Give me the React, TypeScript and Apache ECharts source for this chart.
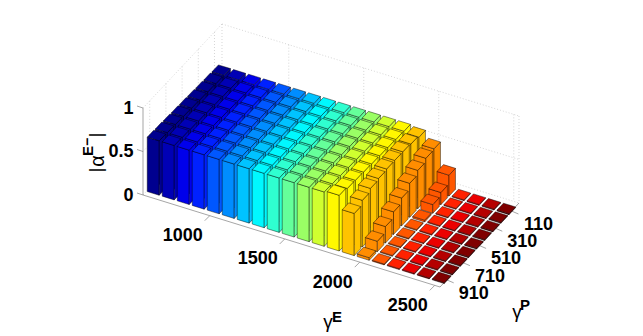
import React, { useEffect, useRef } from "react";
import * as echarts from "echarts";

const gammaE = [600, 700, 800, 900, 1000, 1100, 1200, 1300, 1400, 1500, 1600, 1700, 1800, 1900, 2000, 2100, 2200, 2300, 2400, 2500];
const gammaP = [110, 210, 310, 410, 510, 610, 710, 810, 910];
const columnColors = [
  "#00008f", "#0000b5", "#0000eb", "#0021ff", "#0057ff", "#008dff", "#00c3ff", "#00f8ff", "#2fffd0", "#65ff9a",
  "#9aff65", "#d0ff2f", "#fff800", "#ffc300", "#ff8d00", "#ff5700", "#ff2100", "#eb0000", "#b50000", "#800000",
];
// one list per gamma^P row (110 first), one value per gamma^E column
const alpha110 = [0.585, 0.585, 0.585, 0.585, 0.585, 0.585, 0.585, 0.585, 0.585, 0.585, 0.585, 0.585, 0.585, 0.57, 0.49, 0.24, 0.01, 0.01, 0.01, 0.01];
const alpha210 = [0.59, 0.59, 0.59, 0.59, 0.59, 0.59, 0.59, 0.59, 0.59, 0.59, 0.59, 0.59, 0.59, 0.59, 0.48, 0.14, 0.01, 0.01, 0.01, 0.01];
const alpha310 = [0.595, 0.595, 0.595, 0.595, 0.595, 0.595, 0.595, 0.595, 0.595, 0.595, 0.595, 0.595, 0.595, 0.60, 0.44, 0.10, 0.01, 0.01, 0.01, 0.01];
const alpha410 = [0.60, 0.60, 0.60, 0.60, 0.60, 0.60, 0.60, 0.60, 0.60, 0.60, 0.60, 0.60, 0.60, 0.60, 0.39, 0.02, 0.01, 0.01, 0.01, 0.01];
const alpha510 = [0.605, 0.605, 0.605, 0.605, 0.605, 0.605, 0.605, 0.605, 0.605, 0.605, 0.605, 0.605, 0.605, 0.60, 0.32, 0.01, 0.01, 0.01, 0.01, 0.01];
const alpha610 = [0.61, 0.61, 0.61, 0.61, 0.61, 0.61, 0.61, 0.61, 0.61, 0.61, 0.61, 0.61, 0.61, 0.59, 0.26, 0.01, 0.01, 0.01, 0.01, 0.01];
const alpha710 = [0.615, 0.615, 0.615, 0.615, 0.615, 0.615, 0.615, 0.615, 0.615, 0.615, 0.615, 0.615, 0.615, 0.575, 0.19, 0.01, 0.01, 0.01, 0.01, 0.01];
const alpha810 = [0.62, 0.62, 0.62, 0.62, 0.62, 0.62, 0.62, 0.62, 0.62, 0.62, 0.62, 0.62, 0.62, 0.537, 0.12, 0.01, 0.01, 0.01, 0.01, 0.01];
const alpha910 = [0.625, 0.625, 0.625, 0.625, 0.625, 0.625, 0.625, 0.625, 0.625, 0.625, 0.625, 0.625, 0.64, 0.485, 0.03, 0.01, 0.01, 0.01, 0.01, 0.01];
const alphaRows = [alpha110, alpha210, alpha310, alpha410, alpha510, alpha610, alpha710, alpha810, alpha910];

const xTicks = [1000, 1500, 2000, 2500];
const yTicks = [110, 310, 510, 710, 910];
const zTicks = [0, 0.5, 1];
const xRange = [555, 2535];
const yRange = [17, 993]; // back .. front

// oblique projection of the plot box, in screen pixels
const origin = [143, 195];
const xDir = [297, 92];
const yDir = [79, -84];
const zDir = 87;
const BAR = 0.4; // half bar width in data steps

const project = (api: any, x: number, y: number, z: number) => {
  const p = api.coord([x, y]);
  const fx = (p[0] - origin[0]) / xDir[0];
  const fy = (origin[1] - p[1]) / -yDir[1];
  return [
    origin[0] + fx * xDir[0] + fy * yDir[0],
    origin[1] + fx * xDir[1] + fy * yDir[1] - z * zDir,
  ];
};

const face = (points: number[][], fill: string) => ({
  type: "polygon",
  shape: { points },
  style: { fill, stroke: "rgba(0,0,0,0.62)", lineWidth: 0.7, lineJoin: "round" },
});

const dotted = "#c4c4c4";
const seg = (a: number[], b: number[], stroke: string, dash?: number[], lineWidth = 0.7) => ({
  type: "line",
  shape: { x1: a[0], y1: a[1], x2: b[0], y2: b[1] },
  style: { stroke, lineWidth, lineDash: dash },
});
const label = (x: number, y: number, text: string, size = 18, weight: any = "bold", align: any = "center") => ({
  type: "text",
  x,
  y,
  style: { text, x: 0, y: 0, fontSize: size, fontWeight: weight, fontFamily: "Liberation Sans", fill: "#000", align, verticalAlign: "middle" },
});

const renderBox = (_p: any, api: any) => {
  const [x0, x1] = xRange;
  const [yBack, yFront] = yRange;
  const P = (x: number, y: number, z: number) => project(api, x, y, z);
  const ch: any[] = [];
  const dash = [1, 2];
  // walls: dotted frame and grid
  ch.push(seg(P(x0, yFront, 1), P(x0, yBack, 1), dotted, dash));
  ch.push(seg(P(x0, yBack, 1), P(x1, yBack, 1), dotted, dash));
  ch.push(seg(P(x1, yBack, 1), P(x1, yBack, 0), dotted, dash));
  ch.push(seg(P(x0, yFront, 0.5), P(x0, yBack, 0.5), dotted, dash));
  ch.push(seg(P(x0, yBack, 0.5), P(x1, yBack, 0.5), dotted, dash));
  ch.push(seg(P(x1, yBack, 0), P(x1, yFront, 0), dotted, dash));
  ch.push(seg(P(x0, yBack, 0), P(x1, yBack, 0), dotted, dash));
  ch.push(seg(P(x0, yBack, 0), P(x0, yFront, 0), dotted, dash));
  ch.push(seg(P(x0, yBack, 1), P(x0, yBack, 0), dotted, dash));
  xTicks.forEach((t) => ch.push(seg(P(t, yBack, 1), P(t, yBack, 0), dotted, dash)));
  yTicks.forEach((t) => ch.push(seg(P(x0, t, 1), P(x0, t, 0), dotted, dash)));
  // solid axes
  const axis = "#808080";
  ch.push(seg(P(x0, yFront, 0), P(x0, yFront, 1), axis));
  ch.push(seg(P(x0, yFront, 0), P(x1, yFront, 0), axis));
  ch.push(seg(P(x1, yFront, 0), P(x1, yBack, 0), axis));
  // ticks and labels
  zTicks.forEach((t) => {
    const a = P(x0, yFront, t);
    ch.push(seg(a, [a[0] - 6, a[1] - 2], axis));
    ch.push(label(a[0] - 9.5, a[1] - 0.5, String(t), 18, "bold", "right"));
  });
  xTicks.forEach((t) => {
    const a = P(t, yFront, 0);
    ch.push(seg(a, [a[0] - 5, a[1] + 5], axis));
    ch.push(label(a[0] - 27, a[1] + 19.5, String(t)));
  });
  yTicks.forEach((t) => {
    const a = P(x1, t, 0);
    ch.push(seg(a, [a[0] + 7, a[1] + 3], axis));
    ch.push(label(a[0] + 27, a[1] + 13, String(t)));
  });
  return { type: "group", children: ch };
};

const renderBar = (_p: any, api: any) => {
  const x = api.value(0);
  const y = api.value(1);
  const z = api.value(2);
  const i = gammaE.indexOf(x);
  const dx = BAR * 100;
  const dy = BAR * 100;
  const P = (a: number, b: number, c: number) => project(api, a, b, c);
  const color = columnColors[i];
  const xl = x - dx, xr = x + dx, yb = y - dy, yf = y + dy;
  return {
    type: "group",
    children: [
      face([P(xl, yf, 0), P(xr, yf, 0), P(xr, yf, z), P(xl, yf, z)], color),
      face([P(xr, yf, 0), P(xr, yb, 0), P(xr, yb, z), P(xr, yf, z)], color),
      face([P(xl, yf, z), P(xr, yf, z), P(xr, yb, z), P(xl, yb, z)], color),
    ],
  };
};

const barData: number[][] = [];
gammaP.forEach((p, r) => {
  gammaE.forEach((e, c) => barData.push([e, p, alphaRows[r][c]]));
});

export default function App() {
  const ref = useRef<HTMLDivElement>(null);
  useEffect(() => {
    const chart = echarts.init(ref.current!, undefined, { renderer: "svg" });
    const title = (x: number, y: number, text: string, size: number, weight: any, rotation = 0) => ({
      type: "text",
      x,
      y,
      rotation,
      style: { text, fontSize: size, fontWeight: weight, fontFamily: "Liberation Sans", fill: "#000", align: "center", verticalAlign: "middle" },
    });
    chart.setOption({
      animation: false,
      backgroundColor: "#fff",
      grid: { left: origin[0], top: origin[1] + yDir[1], width: xDir[0], height: -yDir[1], containLabel: false },
      xAxis: { type: "value", min: xRange[0], max: xRange[1], show: false },
      yAxis: { type: "value", min: yRange[0], max: yRange[1], inverse: true, show: false },
      series: [
        { type: "custom", coordinateSystem: "cartesian2d", renderItem: renderBox, data: [[xRange[0], yRange[0]]], silent: true, clip: false, z: 1 },
        { type: "custom", coordinateSystem: "cartesian2d", renderItem: renderBar, data: barData, silent: true, clip: false, z: 2 },
      ],
      graphic: [
        title(96, 170, "|", 18, "normal", Math.PI / 2),
        title(97, 161, "α", 20, "normal", Math.PI / 2),
        title(87, 151, "E", 15, "bold", Math.PI / 2),
        title(87, 142, "−", 14, "bold", Math.PI / 2),
        title(96, 135, "|", 18, "normal", Math.PI / 2),
        title(328, 321, "γ", 19, "normal"),
        title(337, 316, "E", 15, "bold"),
        title(517, 311, "γ", 19, "normal"),
        title(525, 304, "P", 15, "bold"),
      ],
    });
    return () => chart.dispose();
  }, []);
  return <div ref={ref} style={{ position: "fixed", left: 0, top: 0, width: 643, height: 336 }} />;
}
